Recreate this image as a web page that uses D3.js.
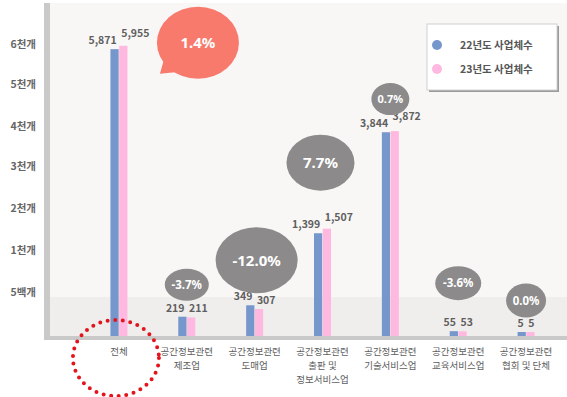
<!DOCTYPE html>
<html>
<head>
<meta charset="utf-8">
<script src="https://cdn.jsdelivr.net/npm/d3@7"></script>
<style>
  body { margin: 0; background: #fff; }
  svg { display: block; font-family: "Noto Sans CJK KR", "Noto Sans", sans-serif; }
</style>
</head>
<body>
<script>
var width = 567;
var height = 397;

// data
var categories = ["전체", "공간정보관련\n제조업", "공간정보관련\n도매업", "공간정보관련\n출판 및\n정보서비스업",
                  "공간정보관련\n기술서비스업", "공간정보관련\n교육서비스업", "공간정보관련\n협회 및 단체"];
var series = ["22년도 사업체수", "23년도 사업체수"];
var values22 = [5871, 219, 349, 1399, 3844, 55, 5];
var values23 = [5955, 211, 307, 1507, 3872, 53, 5];
var changeLabels = ["1.4%", "-3.7%", "-12.0%", "7.7%", "0.7%", "-3.6%", "0.0%"];
var tickValues = [500, 1000, 2000, 3000, 4000, 5000, 6000];
var tickLabels = ["5백개", "1천개", "2천개", "3천개", "4천개", "5천개", "6천개"];

var colors = ["#7697cb", "#ffb8df"];

// bubble look per category: offset from group, lift above the bars, radii, font size
var bubbleStyle = [
  { dx: 79, lift: -33, rx: 41, ry: 36, fs: 15 },
  { dx: 0, lift: 16, rx: 22, ry: 16, fs: 11.5 },
  { dx: 2, lift: 12, rx: 41, ry: 33, fs: 15 },
  { dx: -2, lift: 38, rx: 34, ry: 28, fs: 15 },
  { dx: 0, lift: 16, rx: 19, ry: 16, fs: 11 },
  { dx: 0, lift: 31, rx: 23, ry: 17, fs: 11.5 },
  { dx: 0, lift: 18, rx: 20, ry: 17, fs: 11.5 }
];

var svg = d3.select("body").append("svg")
    .attr("width", width)
    .attr("height", height);

var base = 336;

// broken scale: the bottom 500 gets the same room as 1000 above it
var y = d3.scaleLinear()
    .domain([0, 500, 1000, 2000, 3000, 4000, 5000, 6000])
    .range([base, 292, 250, 208, 166, 126, 84, 44]);

var x = d3.scaleBand()
    .domain(d3.range(categories.length))
    .range([85, 560]);

var x1 = d3.scaleBand()
    .domain([0, 1])
    .range([x.bandwidth() / 2 - 8.5, x.bandwidth() / 2 + 8.5])
    .paddingInner(0.06);

// plot background
svg.append("rect")
    .attr("x", 50).attr("y", 3)
    .attr("width", width - 50).attr("height", base - 3)
    .attr("fill", "#f8f7f6");

svg.append("rect")
    .attr("x", 50).attr("y", y(500) + 5)
    .attr("width", width - 50).attr("height", base - y(500) - 5)
    .attr("fill", "#efeeed");

// axis lines
svg.append("rect")
    .attr("x", 44).attr("y", 3)
    .attr("width", 6).attr("height", base - 3 + 4)
    .attr("fill", "#c9c9c9");

svg.append("rect")
    .attr("x", 44).attr("y", base)
    .attr("width", width - 44).attr("height", 4)
    .attr("fill", "#c9c9c9");

// y axis labels
var yAxis = svg.append("g")
    .attr("transform", "translate(44,0)")
    .call(d3.axisLeft(y).tickValues(tickValues).tickSize(0).tickPadding(8)
        .tickFormat(function(d, i) { return tickLabels[i]; }));
yAxis.select(".domain").remove();
yAxis.selectAll("text")
    .attr("fill", "#666")
    .attr("font-size", 10.5)
    .attr("font-weight", "bold")
    .attr("font-family", "'Noto Sans CJK KR', sans-serif");

// x axis labels
var xAxis = svg.append("g")
    .attr("transform", "translate(0," + (base + 4) + ")")
    .call(d3.axisBottom(x).tickSize(0).tickFormat(""));
xAxis.select(".domain").remove();
xAxis.selectAll(".tick text").each(function(d) {
  var t = d3.select(this)
      .attr("fill", "#5e5e5e")
      .attr("font-size", 9.5)
      .attr("font-family", "'Noto Sans CJK KR', sans-serif")
      .attr("y", 15)
      .attr("dy", 0);
  categories[d].split("\n").forEach(function(line, i) {
    t.append("tspan").attr("x", 0).attr("dy", i === 0 ? 0 : 14).text(line);
  });
});

// bars
var rows = categories.map(function(c, i) { return [values22[i], values23[i]]; });

var groups = svg.selectAll(".grp")
  .data(rows)
  .enter().append("g")
    .attr("class", "grp")
    .attr("transform", function(d, i) { return "translate(" + x(i) + ",0)"; });

groups.selectAll("rect")
  .data(function(d) { return d; })
  .enter().append("rect")
    .attr("x", function(d, j) { return x1(j); })
    .attr("width", x1.bandwidth())
    .attr("y", function(d) { return Math.min(y(d), base - 4); })
    .attr("height", function(d) { return Math.max(base - y(d), 4); })
    .attr("fill", function(d, j) { return colors[j]; });

function labelY(d, j, pair) {
  var ly = Math.min(y(d), base - 4) - 5;
  // long labels: lift the larger 23 label clear of the 22 label
  if (j === 1 && pair[0] >= 1000 && d > pair[0]) {
    ly = Math.min(ly, Math.min(y(pair[0]), base - 4) - 12);
  }
  return ly;
}

groups.each(function(pair) {
  d3.select(this).selectAll(".val")
    .data(pair)
    .enter().append("text")
      .attr("class", "val")
      .attr("x", function(d, j) { return j === 0 ? x1(0) + x1.bandwidth() - 2 : x1(1) + 2; })
      .attr("y", function(d, j) { return labelY(d, j, pair); })
      .attr("text-anchor", function(d, j) { return j === 0 ? "end" : "start"; })
      .attr("fill", "#5f5f5f")
      .attr("font-size", 10.5)
      .attr("font-weight", "bold")
      .text(function(d) { return d3.format(",")(d); });
});

// change bubbles
groups.each(function(d, i) {
  var s = bubbleStyle[i];
  var cx = x.bandwidth() / 2 + s.dx;
  var cy = y(d3.max(d)) - s.lift - s.ry;
  var g = d3.select(this);
  if (i === 0) {
    g.append("path")
        .attr("d", "M" + (cx - 34) + "," + (cy + 17) + " L" + (cx - 38) + "," + (cy + 31) +
                   " L" + (cx - 18) + "," + (cy + 29) + " Z")
        .attr("fill", "#f87a6c");
  }
  g.append("ellipse")
      .attr("cx", cx).attr("cy", cy)
      .attr("rx", s.rx).attr("ry", s.ry)
      .attr("fill", i === 0 ? "#f87a6c" : "#8c8a8a");
  g.append("text")
      .attr("x", cx).attr("y", cy)
      .attr("dy", "0.36em")
      .attr("text-anchor", "middle")
      .attr("fill", "#fff")
      .attr("font-size", s.fs)
      .attr("font-weight", "bold")
      .attr("font-family", "'Noto Sans', sans-serif")
      .text(changeLabels[i]);
});

// red dotted circle round the total label
svg.append("ellipse")
    .attr("cx", x(0) + x.bandwidth() / 2 - 3)
    .attr("cy", base + 22)
    .attr("rx", 43).attr("ry", 38)
    .attr("fill", "none")
    .attr("stroke", "#e3141c")
    .attr("stroke-width", 4)
    .attr("stroke-linecap", "round")
    .attr("stroke-dasharray", "0 7.6");

// legend
var legend = svg.append("g").attr("transform", "translate(427,24)");
legend.append("rect")
    .attr("x", 2).attr("y", 2).attr("width", 130).attr("height", 66)
    .attr("fill", "#9a9a9a");
legend.append("rect")
    .attr("width", 130).attr("height", 66)
    .attr("fill", "#fff")
    .attr("stroke", "#d0d0d0");

legend.selectAll(".item")
  .data(series)
  .enter().append("g")
    .attr("transform", function(d, i) { return "translate(0," + (21 + i * 24) + ")"; })
    .each(function(d, i) {
      var g = d3.select(this);
      g.append("circle").attr("cx", 10).attr("cy", 0).attr("r", 5).attr("fill", colors[i]);
      g.append("text")
          .attr("x", 33).attr("dy", "0.36em")
          .attr("fill", "#555")
          .attr("font-size", 10.5)
          .attr("font-weight", "bold")
          .text(d);
    });
</script>
</body>
</html>
